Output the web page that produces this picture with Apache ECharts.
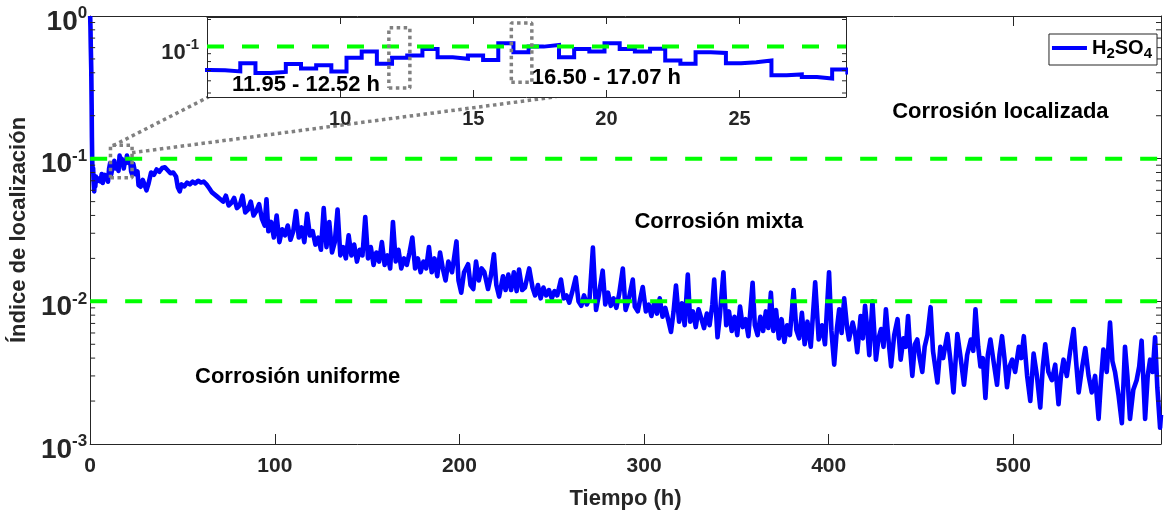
<!DOCTYPE html>
<html><head><meta charset="utf-8">
<script src="https://cdn.jsdelivr.net/npm/echarts@6/dist/echarts.min.js"></script>
<style>html,body{margin:0;padding:0;background:#fff}#c{width:1164px;height:516px}</style>
</head><body><div id="c"></div>
<script>
// ---------- data ----------
const seriesName = 'H2SO4';
// first hours: sharp drop from 1
const earlyPts = [[0,1.0],[0.15,0.85],[0.35,0.6],[0.6,0.42],[0.8,0.24],[0.95,0.14],[1.1,0.1],[1.3,0.08],[1.6,0.086],[1.9,0.068],[2.2,0.059],[2.5,0.072],[2.8,0.064],[3.1,0.075],[3.4,0.069],[3.97,0.073]];
// 0.57 h windows
const windowPts = [[4.54,0.0705],[5.11,0.0702],[5.68,0.069],[6.25,0.078],[6.82,0.0675],[7.39,0.0685],[7.96,0.077],[8.53,0.072],[9.10,0.0756],[9.67,0.069],[10.24,0.0846],[10.81,0.093],[11.38,0.0775],[11.95,0.0846],[12.52,0.0876],[13.09,0.0966],[13.66,0.0854],[14.23,0.0834],[14.80,0.0876],[15.37,0.082],[15.94,0.105],[16.51,0.092],[17.08,0.100],[17.65,0.1025],[18.22,0.0854],[18.79,0.0966],[19.36,0.093],[19.93,0.105],[20.50,0.0966],[21.07,0.093],[21.64,0.097],[22.21,0.0813],[22.78,0.0775],[23.35,0.092],[23.92,0.091],[24.49,0.078],[25.06,0.0793],[25.63,0.0813],[26.20,0.0652],[26.77,0.066],[27.34,0.0636],[27.91,0.0621],[28.48,0.071],[29.05,0.068]];
const decayPtsA = [[30.5,0.060],[31.5,0.066],[33,0.080],[34.5,0.077],[36,0.084],[37.5,0.081],[39,0.086],[40.5,0.087],[42,0.083],[43.5,0.079],[45,0.080],[46.5,0.075],[47.5,0.063],[48.5,0.059],[49.5,0.066],[51,0.064],[52.5,0.068],[54,0.066],[55.5,0.069],[57,0.067],[58.5,0.070],[60,0.068],[61.5,0.069],[63,0.066],[64.5,0.062],[66,0.058],[67.5,0.056],[69,0.054],[70.5,0.052],[72,0.050],[73.5,0.055],[75,0.047],[76.5,0.049],[78,0.053],[79.5,0.045],[81,0.047],[82.5,0.055],[84,0.042],[85.5,0.044],[87,0.050],[88.5,0.040],[90,0.043],[91.5,0.048],[93,0.038],[94.5,0.034],[95.5,0.052],[96.5,0.031],[98,0.036],[99.5,0.028],[101,0.040],[102.5,0.026],[104,0.032],[105.5,0.029],[107,0.034],[108.5,0.027],[110,0.031],[111.5,0.043],[113,0.028],[114.5,0.033],[116,0.026],[117.5,0.041],[119,0.029],[120.5,0.031],[122,0.025],[123.5,0.028],[125,0.023],[126.5,0.045],[128,0.024],[129.5,0.036],[131,0.022],[132.5,0.026],[134,0.044],[135.5,0.021],[137,0.024],[138.5,0.020],[140,0.029],[141.5,0.021],[143,0.025],[144.5,0.019],[146,0.023],[147.5,0.021],[149,0.039],[150.5,0.020],[152,0.024],[153.5,0.018],[155,0.022],[156.5,0.019],[158,0.026],[159.5,0.018],[161,0.021],[162.5,0.017],[164,0.036],[165.5,0.019],[167,0.023],[168.5,0.017],[170,0.020],[171.5,0.018],[173,0.022],[174.5,0.028],[176,0.017],[177.5,0.020],[179,0.016],[180.5,0.019],[182,0.017],[183.5,0.024],[185,0.016],[186.5,0.020],[188,0.015],[189.5,0.022],[191,0.017],[192.5,0.014],[194,0.019],[196,0.016]];
const decayPtsB = [[198.4,0.0263],[199.5,0.014],[201,0.0115],[202.5,0.016],[204.7,0.0182],[206,0.013],[207.5,0.0122],[209,0.019],[210.5,0.014],[212,0.017],[213.5,0.016],[215.5,0.0122],[217,0.015],[218.7,0.0214],[220,0.013],[221.5,0.0108],[223.6,0.015],[225,0.012],[226.5,0.0154],[228,0.012],[229.5,0.016],[231,0.0118],[232.3,0.0167],[234,0.012],[235.5,0.0125],[237.8,0.017],[239.6,0.0125],[241,0.011],[242.5,0.013],[244,0.0105],[245.5,0.0125],[247,0.011],[248.5,0.012],[250,0.0105],[251.5,0.0118],[253,0.011],[255,0.0142],[256.5,0.0105],[258,0.011],[259.5,0.0098],[261,0.0115],[263,0.0147],[264.5,0.010],[266,0.0093],[267.5,0.011],[269,0.0095],[270.5,0.0105],[272.3,0.0238],[274,0.0087],[275.5,0.011],[277.6,0.0164],[279,0.0095],[280.5,0.0115],[282,0.0093],[283.5,0.0105],[285,0.009],[286.5,0.0112],[288.5,0.017],[290,0.0087],[291.5,0.010],[293.9,0.0142],[295,0.0092],[296.6,0.0085],[298,0.0105],[299.3,0.0126],[301,0.0085],[302.5,0.0095],[304,0.0079],[305.5,0.0098],[307,0.0082],[308.5,0.0105],[310,0.0078],[311.5,0.009],[313,0.0075],[314.6,0.0061],[316,0.0085],[317.3,0.0129],[319,0.0072],[320.5,0.0097],[322,0.0068],[323.7,0.0154],[325,0.0072],[326.5,0.0085],[328,0.0066],[329.5,0.0088],[331,0.0076],[332.5,0.0065],[334,0.0082],[335.5,0.0068],[337,0.0095],[338,0.0142],[339.8,0.0056],[341,0.0078],[343,0.016],[344.5,0.0068],[346,0.0085],[347.5,0.0062],[349,0.0078],[350.5,0.0058],[352,0.0092],[353.5,0.0066],[355,0.0075],[356.5,0.0057],[358.8,0.0135],[360,0.0068],[361.5,0.0058],[363,0.0078],[364.5,0.0062],[366,0.0085],[367.3,0.0065],[368.7,0.0115],[370,0.0062],[371.5,0.0087],[373,0.0055],[374.5,0.0075],[376,0.0052],[377.5,0.0068],[379,0.0058],[381,0.012],[382.5,0.0063],[384,0.0055],[385.5,0.0083],[387,0.005],[388.5,0.0072],[390.3,0.0048],[392.7,0.0136],[394.6,0.0054],[396.4,0.0068],[398,0.0050]];
const decayPtsC = [[400.2,0.016],[401.5,0.0062],[403,0.0036],[404.5,0.0065],[405.7,0.0088],[407,0.0060],[408.4,0.0105],[410,0.0065],[411,0.0054],[413,0.0071],[414.3,0.0060],[415.5,0.0044],[417.3,0.0079],[418.5,0.0055],[419.7,0.0093],[421,0.0062],[422,0.0042],[423.7,0.010],[425.6,0.0039],[427,0.0055],[428.4,0.0064],[429.7,0.0048],[431,0.0088],[432.5,0.0052],[433.8,0.0035],[435.5,0.0058],[437.3,0.0075],[439,0.0039],[440.5,0.0055],[441.8,0.0048],[443,0.0079],[444.2,0.0045],[445.3,0.0030],[446.7,0.0050],[448,0.0054],[449.3,0.0040],[450.7,0.0032],[452,0.0048],[453.5,0.0058],[455.2,0.0091],[456.5,0.0045],[458.9,0.0027],[460.5,0.0048],[462,0.0040],[464.3,0.0059],[466,0.0038],[467.6,0.0023],[469.7,0.0059],[471.5,0.0040],[473.3,0.0026],[475,0.0042],[477,0.0054],[478.3,0.0045],[479.5,0.0088],[481,0.0048],[482.2,0.0035],[483.5,0.0040],[484.9,0.0021],[486.2,0.0042],[487.6,0.0054],[489.3,0.0038],[491.2,0.0026],[492.5,0.0042],[493.9,0.0057],[495.2,0.0040],[496.6,0.0025],[498,0.0035],[499.4,0.0039],[501,0.0032],[503,0.0048],[504.3,0.0040],[505.7,0.0057],[507.5,0.0030],[509.2,0.0020],[511,0.0043],[512.8,0.0030],[514.6,0.0018],[516,0.0035],[517.3,0.0050],[519,0.0032],[520.9,0.0028],[522.7,0.0036],[524.5,0.0019],[525.8,0.0030],[527.2,0.0039],[529,0.0030],[530.8,0.0045],[532.7,0.0064],[534,0.0038],[535.4,0.0023],[537.2,0.0034],[539,0.0047],[540.8,0.0030],[542.5,0.0023],[544.3,0.0030],[546.2,0.0015],[547.5,0.0028],[548.8,0.0046],[550.6,0.0032],[552.4,0.0071],[553.7,0.0038],[555.1,0.0032],[557,0.0022],[558.8,0.0014],[560.5,0.0048],[561.8,0.0030],[563.2,0.0015],[565,0.0024],[566.8,0.0028],[568.2,0.0035],[569.5,0.0053],[571.4,0.0015],[572.8,0.0030],[574.1,0.0039],[575.5,0.0032],[576.8,0.0056],[578,0.0025],[579.5,0.0013],[580,0.0016]];
// thresholds between corrosion types
const thresholds = [0.1, 0.01];
// tick values
const mainXTicks = [0, 100, 200, 300, 400, 500];
const insetXTicks = [10, 15, 20, 25];
const mainMinorY = [0.002,0.003,0.004,0.005,0.006,0.007,0.008,0.009,0.02,0.03,0.04,0.05,0.06,0.07,0.08,0.09,0.2,0.3,0.4,0.5,0.6,0.7,0.8,0.9];
const insetMinorY = [0.05,0.06,0.07,0.08,0.09,0.15];
// texts
const regionLabels = ['Corrosión localizada', 'Corrosión mixta', 'Corrosión uniforme'];
const windowLabels = ['11.95 - 12.52 h', '16.50 - 17.07 h'];

// ---------- chart ----------
const FONT = "'Liberation Sans', Arial, Helvetica, sans-serif";
const AX = '#262626';
const BLUE = '#0000ff', GREEN = '#00ff00', GRAY = '#808080';
const allPts = earlyPts.concat(windowPts, decayPtsA, decayPtsB, decayPtsC);

const MAIN_X = [0, 580], MAIN_Y = [0.001, 1];
const INS_X = [5, 29], INS_Y = [0.0471, 0.1557];

function logLabel(v) {
  const l = Math.log10(v), e = Math.round(l);
  if (Math.abs(l - e) > 1e-6) return '';
  return '{b|10}{s|' + e + '}';
}
function richLog(big, small, lh, slh) {
  return {
    b: {fontFamily: FONT, fontWeight: 'bold', fontSize: big, color: AX, lineHeight: lh},
    s: {fontFamily: FONT, fontWeight: 'bold', fontSize: small, color: AX, lineHeight: slh, verticalAlign: 'top'}
  };
}
function boxAxis(extra) {
  return Object.assign({
    axisLine: {show: true, onZero: false, lineStyle: {color: AX, width: 1}},
    axisTick: {show: true, inside: true, length: 10, lineStyle: {color: AX, width: 1}},
    splitLine: {show: false},
    minorTick: {show: false}
  }, extra);
}
function minorTickSeries(xi, yi, xr, vals, len, z) {
  return {
    type: 'custom', xAxisIndex: xi, yAxisIndex: yi, z: z, silent: true, clip: false,
    data: vals.map(v => [xr[0], v]),
    renderItem: function (params, api) {
      const v = api.value(1);
      const pl = api.coord([xr[0], v]), pr = api.coord([xr[1], v]);
      const st = {stroke: AX, lineWidth: 1};
      return {type: 'group', children: [
        {type: 'line', shape: {x1: pl[0], y1: pl[1], x2: pl[0] + len, y2: pl[1]}, style: st},
        {type: 'line', shape: {x1: pr[0] - len, y1: pr[1], x2: pr[0], y2: pr[1]}, style: st}
      ]};
    }
  };
}
function textSeries(xi, yi, items, z) {
  // items: [x, y, text, align]
  return {
    type: 'custom', xAxisIndex: xi, yAxisIndex: yi, z: z, silent: true, clip: false,
    data: items.map((it, i) => [it[0], it[1], i]),
    renderItem: function (params, api) {
      const it = items[api.value(2)];
      const p = api.coord([api.value(0), api.value(1)]);
      return {type: 'text', x: p[0], y: p[1], style: {
        text: it[2], fill: '#000', fontFamily: FONT, fontWeight: 'bold', fontSize: 22,
        align: it[3], verticalAlign: 'middle'}};
    }
  };
}
function polySeries(xi, yi, pts, z, style) {
  return {type: 'line', xAxisIndex: xi, yAxisIndex: yi, z: z, data: pts, symbol: 'none', silent: true,
    lineStyle: style, itemStyle: {color: style.color}, clip: false};
}
const dotted = {color: GRAY, width: 3.5, type: [3.5, 3.5], cap: 'butt'};
const dashedG = {color: GREEN, width: 4, type: [17, 18], cap: 'butt'};
function rectPts(x0, x1, y0, y1) { return [[x0, y0], [x1, y0], [x1, y1], [x0, y1], [x0, y0]]; }

const option = {
  animation: false,
  backgroundColor: '#fff',
  textStyle: {fontFamily: FONT},
  grid: [
    {left: 88, top: 16, right: 2, bottom: 72},
    {left: 207, top: 17, width: 639, height: 80, show: true, backgroundColor: '#fff', borderWidth: 0, z: 10}
  ],
  legend: {
    data: [seriesName], right: 7, top: 34, icon: 'rect', itemWidth: 35, itemHeight: 4,
    padding: [4, 5, 4, 3], borderColor: AX, borderWidth: 1, backgroundColor: '#fff',
    selectedMode: false, z: 20,
    formatter: () => '{h|H}{sub|2}{h|SO}{sub|4}',
    textStyle: {rich: {
      h: {fontFamily: FONT, fontWeight: 'bold', fontSize: 20, color: '#000', lineHeight: 26},
      sub: {fontFamily: FONT, fontWeight: 'bold', fontSize: 15, color: '#000', lineHeight: 15, verticalAlign: 'bottom'}
    }}
  },
  xAxis: [
    boxAxis({type: 'value', gridIndex: 0, position: 'bottom', min: MAIN_X[0], max: MAIN_X[1], interval: 100,
      axisLabel: {margin: 12, color: AX, fontFamily: FONT, fontWeight: 'bold', fontSize: 21,
        formatter: v => (mainXTicks.indexOf(v) >= 0 ? String(v) : '')},
      name: 'Tiempo (h)', nameLocation: 'middle', nameGap: 44,
      nameTextStyle: {color: AX, fontFamily: FONT, fontWeight: 'bold', fontSize: 22}}),
    boxAxis({type: 'value', gridIndex: 0, position: 'top', min: MAIN_X[0], max: MAIN_X[1], interval: 100,
      axisLabel: {show: false}}),
    boxAxis({type: 'value', gridIndex: 1, position: 'bottom', min: INS_X[0], max: INS_X[1], interval: 5, z: 11,
      axisTick: {show: true, inside: true, length: 7, lineStyle: {color: AX}},
      axisLabel: {margin: 12, color: AX, fontFamily: FONT, fontWeight: 'bold', fontSize: 20,
        formatter: v => (insetXTicks.indexOf(v) >= 0 ? String(v) : '')}}),
    boxAxis({type: 'value', gridIndex: 1, position: 'top', min: INS_X[0], max: INS_X[1], interval: 5, z: 11,
      axisTick: {show: true, inside: true, length: 7, lineStyle: {color: AX}},
      axisLabel: {show: false}})
  ],
  yAxis: [
    boxAxis({type: 'log', logBase: 10, gridIndex: 0, position: 'left', min: MAIN_Y[0], max: MAIN_Y[1],
      axisLabel: {margin: 3, formatter: logLabel, padding: [12, 0, 0, 0], rich: richLog(28, 17, 34, 17)},
      name: 'Índice de localización', nameLocation: 'middle', nameGap: 52,
      nameTextStyle: {color: AX, fontFamily: FONT, fontWeight: 'bold', fontSize: 22}}),
    boxAxis({type: 'log', logBase: 10, gridIndex: 0, position: 'right', min: MAIN_Y[0], max: MAIN_Y[1],
      axisLabel: {show: false}}),
    boxAxis({type: 'log', logBase: 10, gridIndex: 1, position: 'left', min: INS_Y[0], max: INS_Y[1], z: 11,
      axisTick: {show: true, inside: true, length: 7, lineStyle: {color: AX}},
      axisLabel: {margin: 8, formatter: logLabel, padding: [12, 0, 0, 0], rich: richLog(22, 15, 30, 12)}}),
    boxAxis({type: 'log', logBase: 10, gridIndex: 1, position: 'right', min: INS_Y[0], max: INS_Y[1], z: 11,
      axisTick: {show: true, inside: true, length: 7, lineStyle: {color: AX}},
      axisLabel: {show: false}})
  ],
  series: [
    {name: seriesName, type: 'line', xAxisIndex: 0, yAxisIndex: 0, data: allPts, symbol: 'none', showSymbol: false,
      z: 2, lineStyle: {color: BLUE, width: 4.6, join: 'round'}, itemStyle: {color: BLUE}},
    ...thresholds.map(t => polySeries(0, 0, [[MAIN_X[0], t], [MAIN_X[1], t]], 3, dashedG)),
    // zoom box on main curve and connectors to inset
    polySeries(0, 0, rectPts(11, 22.7, 0.0736, 0.124), 3, dotted),
    polySeries(0, 0, [[12.4, 0.1233], [64.3, 0.2715]], 3, dotted),
    polySeries(0, 0, [[22.7, 0.1101], [252.4, 0.2715]], 3, dotted),
    minorTickSeries(0, 0, MAIN_X, mainMinorY, 5, 3),
    textSeries(0, 0, [[493, 0.2132, regionLabels[0], 'center'], [340.5, 0.03625, regionLabels[1], 'center'], [112.4, 0.00294, regionLabels[2], 'center']], 4),
    // inset
    {name: 'inset', type: 'line', xAxisIndex: 2, yAxisIndex: 2, data: allPts, symbol: 'none', showSymbol: false,
      step: 'end', z: 12, clip: true, lineStyle: {color: BLUE, width: 4, join: 'miter'}, itemStyle: {color: BLUE}},
    Object.assign(polySeries(2, 2, [[INS_X[0], thresholds[0]], [INS_X[1], thresholds[0]]], 13, dashedG), {clip: true}),
    polySeries(2, 2, rectPts(11.83, 12.62, 0.0538, 0.1324), 14, dotted),
    polySeries(2, 2, rectPts(16.43, 17.2, 0.0588, 0.1425), 14, dotted),
    minorTickSeries(2, 2, INS_X, insetMinorY, 4, 14),
    textSeries(2, 2, [[5.94, 0.0562, windowLabels[0], 'left'], [17.2, 0.0628, windowLabels[1], 'left']], 15)
  ]
};
const chart = echarts.init(document.getElementById('c'), null, {renderer: 'canvas'});
chart.setOption(option);
</script>
</body></html>
